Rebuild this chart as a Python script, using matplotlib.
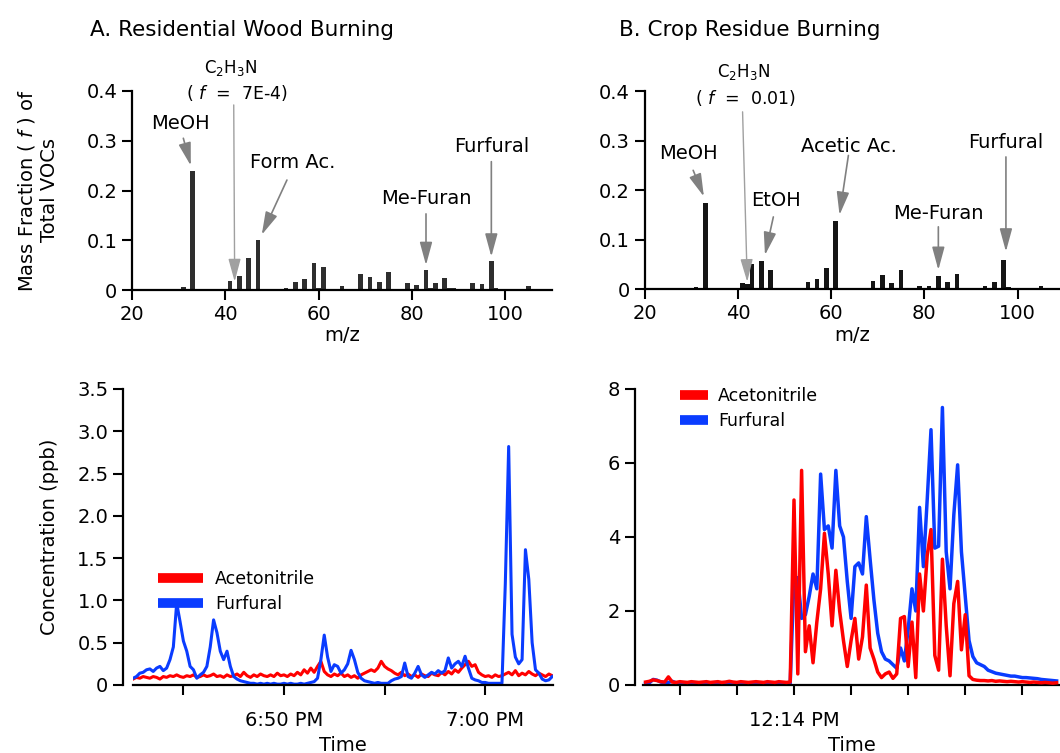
import numpy as np
import matplotlib
matplotlib.use("Agg")
import matplotlib.pyplot as plt
from matplotlib.ticker import FuncFormatter, MultipleLocator, FixedLocator

plt.rcParams['font.family'] = ['DejaVu Sans']

# ---- mass spectra (m/z vs mass fraction of total VOCs) ----
mz_wood = [28, 31, 33, 34, 40, 41, 42, 43, 44, 45, 46, 47, 48, 51, 53, 54, 55, 57, 59, 60,
           61, 62, 65, 67, 69, 71, 72, 73, 75, 77, 79, 81, 83, 84, 85, 87, 88, 89, 91, 93,
           95, 97, 98, 99, 101, 103, 105, 107]
frac_wood = [0.003, 0.007, 0.24, 0.002, 0.002, 0.019, 0.0007, 0.029, 0.003, 0.064,
             0.003, 0.100, 0.002, 0.002, 0.005, 0.002, 0.017, 0.023, 0.055, 0.005,
             0.046, 0.003, 0.009, 0.002, 0.032, 0.026, 0.003, 0.016, 0.036, 0.002,
             0.014, 0.010, 0.040, 0.004, 0.015, 0.024, 0.004, 0.004, 0.003, 0.014,
             0.012, 0.058, 0.004, 0.002, 0.002, 0.002, 0.008, 0.002]

mz_crop = [31, 33, 41, 42, 43, 45, 47, 53, 55, 57, 59, 61, 62, 67, 69, 71, 73, 75, 79, 81,
           83, 85, 87, 93, 95, 97, 98, 104, 105]
frac_crop = [0.005, 0.175, 0.013, 0.010, 0.051, 0.058, 0.039, 0.002, 0.015, 0.021,
             0.043, 0.137, 0.003, 0.003, 0.017, 0.029, 0.013, 0.039, 0.007, 0.007,
             0.027, 0.015, 0.031, 0.007, 0.015, 0.059, 0.004, 0.002, 0.006]

# ---- time series, residential wood (10 s steps from 6:42:30 PM) ----
wood_start = 18 * 60 + 42.5   # minutes of day
wood_step = 10 / 60.
acn_wood = [0.07, 0.09, 0.08, 0.10, 0.09, 0.08, 0.10, 0.09, 0.07, 0.10, 0.09,
            0.11, 0.10, 0.12, 0.10, 0.09, 0.11, 0.10, 0.12, 0.09, 0.10,
            0.12, 0.10, 0.11, 0.13, 0.10, 0.11, 0.09, 0.12, 0.10, 0.11,
            0.13, 0.10, 0.15, 0.11, 0.09, 0.12, 0.10, 0.13, 0.11, 0.10,
            0.12, 0.10, 0.14, 0.11, 0.12, 0.10, 0.13, 0.11, 0.15, 0.12,
            0.18, 0.14, 0.20, 0.15, 0.22, 0.28, 0.16, 0.12, 0.10, 0.13,
            0.11, 0.14, 0.10, 0.12, 0.09, 0.11, 0.08, 0.12, 0.14, 0.16,
            0.18, 0.16, 0.20, 0.28, 0.22, 0.19, 0.17, 0.14, 0.12, 0.15,
            0.11, 0.13, 0.10, 0.12, 0.09, 0.13, 0.11, 0.10, 0.14, 0.12,
            0.11, 0.15, 0.12, 0.16, 0.13, 0.18, 0.15, 0.20, 0.24, 0.28,
            0.22, 0.24, 0.15, 0.12, 0.10, 0.11, 0.09, 0.12, 0.10, 0.11,
            0.13, 0.15, 0.12, 0.17, 0.11, 0.14, 0.12, 0.16, 0.13, 0.11,
            0.14, 0.12, 0.10, 0.13, 0.11]
furf_wood = [0.08, 0.10, 0.14, 0.15, 0.18, 0.19, 0.16, 0.20, 0.22, 0.17, 0.20,
             0.30, 0.45, 0.97, 0.75, 0.52, 0.40, 0.22, 0.18, 0.08, 0.12,
             0.15, 0.22, 0.45, 0.77, 0.62, 0.40, 0.30, 0.40, 0.22, 0.10,
             0.07, 0.05, 0.04, 0.03, 0.02, 0.02, 0.01, 0.02, 0.01, 0.02,
             0.01, 0.02, 0.01, 0.01, 0.02, 0.01, 0.02, 0.01, 0.01, 0.02,
             0.01, 0.02, 0.03, 0.04, 0.08, 0.30, 0.59, 0.33, 0.16, 0.24,
             0.22, 0.14, 0.18, 0.25, 0.41, 0.30, 0.15, 0.08, 0.05, 0.04,
             0.03, 0.02, 0.03, 0.02, 0.02, 0.02, 0.05, 0.07, 0.08, 0.10,
             0.26, 0.10, 0.08, 0.14, 0.22, 0.12, 0.09, 0.12, 0.15, 0.13,
             0.17, 0.14, 0.17, 0.32, 0.20, 0.25, 0.28, 0.22, 0.34, 0.20,
             0.08, 0.06, 0.05, 0.03, 0.03, 0.02, 0.02, 0.02, 0.02, 0.02,
             1.20, 2.82, 0.60, 0.33, 0.25, 0.30, 1.60, 1.25, 0.50, 0.18,
             0.14, 0.07, 0.05, 0.06, 0.10]

# ---- time series, crop residue (4 s steps from 12:11:24 PM) ----
crop_start = 12 * 60 + 11.4
crop_step = 4 / 60.
acn_crop = [0.08, 0.10, 0.14, 0.12, 0.09, 0.08, 0.22, 0.08, 0.07, 0.09,
            0.08, 0.07, 0.09, 0.08, 0.07, 0.08, 0.09, 0.07, 0.08, 0.09,
            0.07, 0.08, 0.10, 0.08, 0.07, 0.09, 0.08, 0.07, 0.08, 0.09,
            0.08, 0.07, 0.09, 0.08, 0.07, 0.09, 0.08, 0.07, 0.08,
            5.0, 0.3, 5.8, 0.9, 1.6, 0.6, 1.7, 2.6, 4.1, 3.0,
            1.6, 3.1, 2.0, 1.2, 0.5, 1.2, 1.8, 0.7, 1.3, 2.7,
            1.0, 0.7, 0.35, 0.2, 0.3, 0.35, 0.18, 0.3, 1.8, 1.85,
            0.5, 1.7,
            0.2, 3.0, 2.0, 3.5, 4.2, 0.8, 0.4, 3.4, 1.6, 0.25,
            2.2, 2.8, 0.95, 1.9, 0.25, 0.15, 0.13, 0.12, 0.12, 0.11,
            0.12, 0.10, 0.11, 0.10, 0.09, 0.10, 0.09, 0.08, 0.09, 0.08,
            0.07, 0.08, 0.07, 0.06, 0.07, 0.06, 0.05, 0.06]
furf_crop = [0.04, 0.06, 0.15, 0.13, 0.08, 0.06, 0.07, 0.10, 0.06, 0.05,
             0.04, 0.05, 0.04, 0.03, 0.04, 0.05, 0.04, 0.03, 0.04, 0.04,
             0.03, 0.04, 0.05, 0.04, 0.03, 0.04, 0.04, 0.03, 0.04, 0.05,
             0.04, 0.03, 0.04, 0.04, 0.03, 0.04, 0.05, 0.04, 0.04,
             2.9, 2.9, 1.8, 1.9, 2.4, 3.0, 2.6, 5.7, 4.2, 4.3,
             3.7, 5.8, 4.3, 4.0, 2.8, 1.8, 3.2, 3.3, 3.0, 4.55,
             3.4, 2.3, 1.4, 0.9, 0.7, 0.65, 0.55, 0.45, 1.0, 0.65,
             1.5, 2.6,
             2.0, 4.8, 3.2, 5.0, 6.9, 3.7, 3.75, 7.5, 3.6, 2.6,
             4.6, 5.95, 3.6, 2.4, 1.2, 0.77, 0.6, 0.55, 0.5, 0.4,
             0.36, 0.32, 0.3, 0.28, 0.26, 0.24, 0.24, 0.22, 0.2, 0.2,
             0.19, 0.18, 0.17, 0.15, 0.14, 0.13, 0.12, 0.11]

t_wood = wood_start + np.arange(len(acn_wood)) * wood_step
t_crop = crop_start + np.arange(len(acn_crop)) * crop_step

RED = "#ff0000"
BLUE = "#0a3cff"
ARROW = "#808080"
W, H = 1060, 753


def box(x0, y0, x1, y1):
    # pixel box -> figure fraction [left, bottom, width, height]
    return [x0 / W, 1 - y1 / H, (x1 - x0) / W, (y1 - y0) / H]


def clock(v, pos=None):
    h = int(v // 60)
    m = int(round(v - h * 60))
    ampm = "PM" if h >= 12 else "AM"
    h12 = h % 12 or 12
    return f"{h12}:{m:02d} {ampm}"


def style(ax):
    for s in ["top", "right"]:
        ax.spines[s].set_visible(False)
    for s in ["left", "bottom"]:
        ax.spines[s].set_linewidth(1.6)
    ax.tick_params(which="both", direction="out", length=7, width=1.5, labelsize=14)


def arrow(ax, tail, tip, color=ARROW, lw=1.2):
    ax.annotate("", xy=tip, xytext=tail, annotation_clip=False,
                arrowprops=dict(arrowstyle="-|>,head_length=1.4,head_width=0.38",
                                mutation_scale=10, color=color, lw=lw,
                                shrinkA=0, shrinkB=0))


fmt01 = FuncFormatter(lambda v, p: "0" if abs(v) < 1e-9 else f"{v:.1f}")

fig = plt.figure(figsize=(10.6, 7.53), dpi=100)

# ---------- A: mass spectrum ----------
ax1 = fig.add_axes(box(132, 91, 552, 290))
ax1.bar(mz_wood, frac_wood, width=1.0, color="#2e2e2e")
ax1.set_xlim(20, 110)
ax1.set_ylim(0, 0.4)
ax1.set_xticks([20, 40, 60, 80, 100])
ax1.set_yticks([0, 0.1, 0.2, 0.3, 0.4])
ax1.yaxis.set_major_formatter(fmt01)
style(ax1)
ax1.set_xlabel("m/z", fontsize=14, labelpad=2)
ax1.set_ylabel("Mass Fraction ( $f$ ) of\nTotal VOCs", fontsize=14, labelpad=20)

ax1.text(30.3, 0.335, "MeOH", fontsize=14, ha="center", va="center")
arrow(ax1, (31.0, 0.305), (32.6, 0.25))
ax1.text(41.2, 0.447, "C$_2$H$_3$N", fontsize=12, ha="center", va="center", clip_on=False)
ax1.text(42.4, 0.395, "( $f$  =  7E-4)", fontsize=12.5, ha="center", va="center")
arrow(ax1, (41.8, 0.372), (42.0, 0.017), color="#a0a0a0", lw=1.0)
ax1.text(54.5, 0.257, "Form Ac.", fontsize=14, ha="center", va="center")
arrow(ax1, (53.2, 0.221), (47.8, 0.111))
ax1.text(83.1, 0.183, "Me-Furan", fontsize=14, ha="center", va="center")
arrow(ax1, (83.0, 0.153), (83.0, 0.05))
ax1.text(97.0, 0.289, "Furfural", fontsize=14, ha="center", va="center")
arrow(ax1, (97.0, 0.258), (97.0, 0.067))

# ---------- B: mass spectrum ----------
ax2 = fig.add_axes(box(644.7, 91, 1060, 289.3))
ax2.bar(mz_crop, frac_crop, width=1.0, color="#151515")
ax2.set_xlim(20, 109.1)
ax2.set_ylim(0, 0.4)
ax2.set_xticks([20, 40, 60, 80, 100])
ax2.set_yticks([0, 0.1, 0.2, 0.3, 0.4])
ax2.yaxis.set_major_formatter(fmt01)
style(ax2)
ax2.set_xlabel("m/z", fontsize=14, labelpad=2)

ax2.text(41.2, 0.438, "C$_2$H$_3$N", fontsize=12, ha="center", va="center", clip_on=False)
ax2.text(41.6, 0.385, "( $f$  =  0.01)", fontsize=12.5, ha="center", va="center")
arrow(ax2, (41.0, 0.358), (42.0, 0.015), color="#a0a0a0", lw=1.0)
ax2.text(29.3, 0.274, "MeOH", fontsize=14, ha="center", va="center")
arrow(ax2, (30.4, 0.24), (32.7, 0.187))
ax2.text(48.1, 0.18, "EtOH", fontsize=14, ha="center", va="center")
arrow(ax2, (47.6, 0.146), (45.8, 0.069))
ax2.text(63.8, 0.288, "Acetic Ac.", fontsize=14, ha="center", va="center")
arrow(ax2, (63.7, 0.27), (61.8, 0.15))
ax2.text(83.0, 0.152, "Me-Furan", fontsize=14, ha="center", va="center")
arrow(ax2, (83.0, 0.126), (83.0, 0.039))
ax2.text(97.5, 0.296, "Furfural", fontsize=14, ha="center", va="center")
arrow(ax2, (97.5, 0.267), (97.5, 0.076))

# ---------- A: time series ----------
ax3 = fig.add_axes(box(132.7, 389, 553, 685))
ax3.plot(t_wood, acn_wood, color=RED, lw=2.2, label="Acetonitrile")
ax3.plot(t_wood, furf_wood, color=BLUE, lw=2.2, label="Furfural")
ax3.set_xlim(wood_start - 0.02, wood_start + 20.87)
ax3.set_ylim(0, 3.5)
ax3.yaxis.set_major_locator(MultipleLocator(0.5))
ax3.yaxis.set_major_formatter(fmt01)
ax3.xaxis.set_major_locator(MultipleLocator(10))
ax3.xaxis.set_minor_locator(MultipleLocator(5))
ax3.xaxis.set_major_formatter(FuncFormatter(clock))
style(ax3)
ax3.tick_params(axis="x", pad=12)
ax3.spines["left"].set_position(("outward", 7))
ax3.set_xlabel("Time", fontsize=14, labelpad=4)
ax3.set_ylabel("Concentration (ppb)", fontsize=14, labelpad=13)
leg = ax3.legend(loc="upper left", bbox_to_anchor=(158 / W, 1 - 570 / H),
                 bbox_transform=fig.transFigure, frameon=False, fontsize=12.5,
                 handlelength=2.6, handletextpad=0.7, labelspacing=0.4,
                 borderpad=0, borderaxespad=0)
for ln in leg.get_lines():
    ln.set_linewidth(7)
    ln.set_solid_capstyle("butt")

# ---------- B: time series ----------
ax4 = fig.add_axes(box(643.3, 389, 1060, 685))
ax4.plot(t_crop, furf_crop, color=BLUE, lw=2.5, label="Furfural", zorder=2)
ax4.plot(t_crop, acn_crop, color=RED, lw=2.5, label="Acetonitrile", zorder=3)
ax4.set_xlim(crop_start - 0.04, crop_start + 7.26)
ax4.set_ylim(0, 8)
ax4.set_yticks([0, 2, 4, 6, 8])
ax4.xaxis.set_major_locator(FixedLocator([12 * 60 + 14]))
ax4.xaxis.set_minor_locator(MultipleLocator(1))
ax4.xaxis.set_major_formatter(FuncFormatter(clock))
style(ax4)
ax4.tick_params(axis="x", pad=12)
ax4.spines["left"].set_position(("outward", 6))
ax4.set_xlabel("Time", fontsize=14, labelpad=4)
h, l = ax4.get_legend_handles_labels()
leg2 = ax4.legend([h[1], h[0]], [l[1], l[0]], loc="upper left",
                  bbox_to_anchor=(680 / W, 1 - 387 / H),
                  bbox_transform=fig.transFigure, frameon=False, fontsize=12.5,
                  handlelength=1.6, handletextpad=0.6, labelspacing=0.4,
                  borderpad=0, borderaxespad=0)
for ln in leg2.get_lines():
    ln.set_linewidth(7)
    ln.set_solid_capstyle("butt")

fig.text(242 / W, 1 - 30 / H, "A. Residential Wood Burning", fontsize=15.5,
         ha="center", va="center")
fig.text(750 / W, 1 - 30 / H, "B. Crop Residue Burning", fontsize=15.5,
         ha="center", va="center")

fig.savefig("out.png", dpi=100)
